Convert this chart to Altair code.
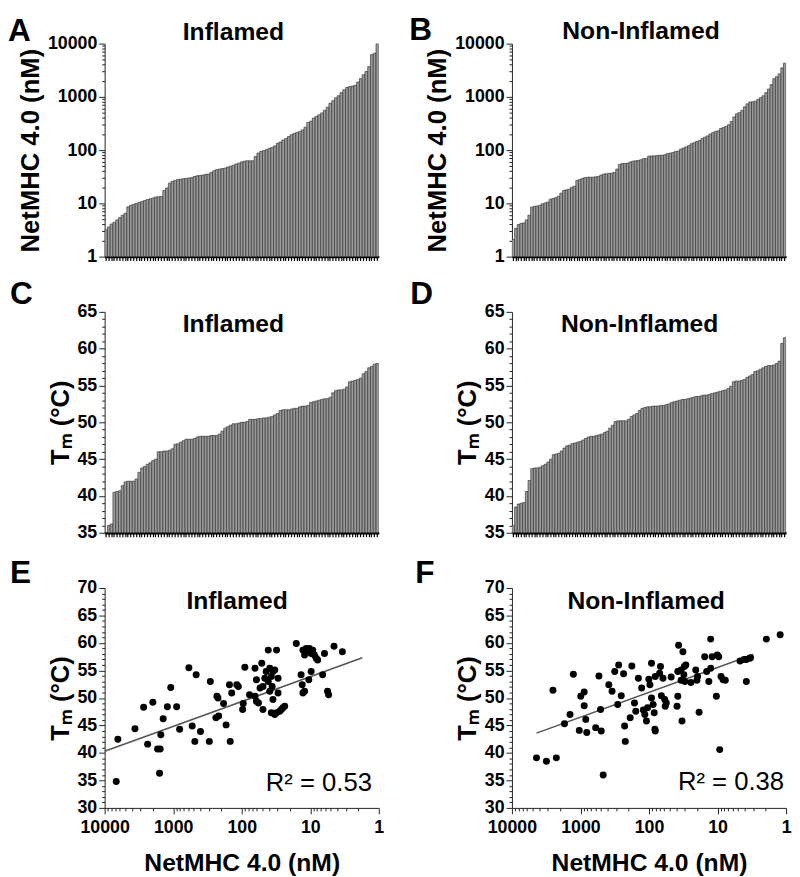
import altair as alt
import pandas as pd

FONT = "Liberation Sans"

# ---------------- data ----------------
panel_letters = ["A", "B", "C", "D", "E", "F"]
group_names = ["Inflamed", "Non-Inflamed"]
r2_labels = ["R\u00b2 = 0.53", "R\u00b2 = 0.38"]

# A: Inflamed, NetMHC 4.0 (nM), sorted
inflamed_netmhc_sorted = [
    3.2, 3.6, 4.1, 4.4, 4.9, 5.4, 6.0, 6.5, 8.6, 9.2, 9.6, 10.0, 10.4, 10.8, 11.3,
    11.8, 12.2, 12.6, 13.2, 13.3, 13.4, 17.5, 19.5, 24, 26, 27, 28, 28.5, 29, 29.5,
    30, 30.5, 32, 33, 33.5, 34, 35, 35.5, 38, 41, 43, 44, 45, 46, 48, 50, 52, 55, 57,
    60, 62, 63, 63, 63, 76, 88, 95, 98, 102, 108, 112, 120, 135, 142, 155, 165, 180,
    195, 205, 215, 225, 240, 270, 330, 350, 400, 430, 460, 500, 560, 640, 760, 850,
    960, 1050, 1200, 1360, 1500, 1560, 1600, 1650, 1900, 2200, 2600, 3000, 3700,
    6200, 6600, 10000,
]

# B: Non-Inflamed, NetMHC 4.0 (nM), sorted
noninflamed_netmhc_sorted = [
    2.1, 3.4, 4.0, 4.2, 4.3, 4.9, 6.0, 8.5, 8.8, 8.9, 9.2, 9.8, 10.2, 10.6, 12.0,
    12.3, 12.8, 13.6, 15.5, 17.5, 18, 18.5, 20, 21, 27, 28, 29.5, 30.5, 31, 31, 31,
    31.5, 32, 34, 35.5, 36, 36.5, 37, 38, 44, 54, 56, 56, 57, 60, 62, 63, 64, 66, 69,
    70, 77, 78, 78, 79, 80, 80, 82, 86, 88, 90, 94, 96, 105, 110, 115, 122, 132, 138,
    145, 151, 165, 175, 185, 200, 213, 225, 230, 255, 265, 280, 300, 345, 420, 480,
    510, 560, 650, 740, 800, 810, 830, 900, 970, 1050, 1200, 1400, 1700, 2200, 2400,
    2700, 3500, 4300,
]

# C: Inflamed, Tm (deg C), sorted
inflamed_tm_sorted = [
    34.7, 36.0, 36.2, 40.5, 40.6, 40.7, 41.4, 41.9, 42.0, 42.0, 42.0, 42.3, 43.2,
    43.8, 44.0, 44.3, 44.5, 44.8, 45.0, 46.0, 46.0, 46.1, 46.1, 46.2, 46.4, 47.0,
    47.1, 47.3, 47.5, 47.7, 47.7, 47.7, 47.8, 48.0, 48.1, 48.1, 48.1, 48.1, 48.2,
    48.2, 48.2, 48.4, 48.8, 49.2, 49.4, 49.6, 49.8, 49.8, 49.9, 50.0, 50.0, 50.1,
    50.4, 50.4, 50.4, 50.5, 50.5, 50.6, 50.6, 50.7, 50.8, 51.0, 51.2, 51.6, 51.7,
    51.7, 51.7, 51.8, 51.9, 51.9, 52.1, 52.2, 52.2, 52.3, 52.7, 52.8, 52.9, 53.0,
    53.1, 53.2, 53.2, 53.4, 54.0, 54.3, 54.4, 54.4, 54.5, 54.8, 55.5, 55.6, 55.7,
    55.8, 56.0, 56.6, 56.9, 57.4, 57.6, 57.9, 58.0,
]

# D: Non-Inflamed, Tm (deg C), sorted
noninflamed_tm_sorted = [
    36.0, 38.5, 38.9, 39.0, 39.1, 40.6, 42.1, 43.7, 43.8, 43.8, 43.9, 44.1, 44.3,
    44.6, 45.0, 45.6, 45.7, 45.8, 46.1, 46.5, 46.8, 46.9, 47.1, 47.2, 47.3, 47.4,
    47.6, 47.8, 48.0, 48.1, 48.1, 48.2, 48.3, 48.4, 48.6, 48.8, 49.2, 49.6, 50.1,
    50.2, 50.2, 50.2, 50.2, 50.4, 50.8, 51.0, 51.2, 51.6, 51.9, 52.0, 52.1, 52.1,
    52.2, 52.2, 52.2, 52.3, 52.3, 52.4, 52.5, 52.7, 52.8, 52.9, 53.0, 53.1, 53.1,
    53.2, 53.3, 53.4, 53.5, 53.5, 53.6, 53.7, 53.7, 53.8, 53.9, 54.0, 54.1, 54.2,
    54.3, 54.4, 54.6, 54.9, 55.5, 55.6, 55.6, 55.7, 55.8, 56.1, 56.3, 56.5, 56.9,
    57.0, 57.2, 57.4, 57.6, 57.7, 57.7, 57.8, 58.0, 58.3, 60.7, 61.5,
]

# E: Inflamed scatter
inflamed_scatter_netmhc = [
    6780, 6410, 3610, 2700, 2360, 1980, 1690, 1550, 1580, 1515, 1400, 1215, 1085,
    890, 805, 590, 528, 483, 462, 400, 297, 287, 238, 230, 222, 217, 184, 169, 151,
    147, 140, 118, 112, 97, 95, 90, 77, 64, 64, 61, 61, 57, 54, 51, 49, 49, 46, 44,
    41, 41, 39, 39, 37, 36, 37, 35, 35, 33, 33, 31, 31, 29.5, 29.5, 27.9, 26.4, 25,
    23.6, 16, 13.6, 13.1, 12.8, 12.1, 12.8, 12.1, 11.5, 10.9, 10.3, 9.7, 9.2, 8.7,
    10.5, 9.7, 8.2, 7.8, 6.6, 6.2, 5.6, 5.4, 4.5, 3.4,
]
inflamed_scatter_tm = [
    34.8, 42.5, 44.4, 48.3, 41.6, 49.2, 40.7, 40.7, 36.3, 43.3, 46.2, 48.4, 51.9,
    48.4, 44.3, 55.5, 44.9, 42.1, 54.2, 43.9, 42.1, 53.0, 46.4, 50.3, 50.0, 46.7,
    49.0, 45.1, 52.4, 42.1, 50.9, 52.4, 52.1, 47.9, 49.0, 55.6, 50.6, 55.4, 50.3,
    53.3, 49.4, 49.1, 51.8, 56.3, 52.1, 47.9, 53.6, 54.8, 53.0, 58.7, 55.4, 51.2,
    53.9, 52.1, 47.3, 49.7, 54.8, 47.0, 55.1, 58.7, 47.3, 53.6, 50.9, 47.6, 47.9,
    48.2, 48.5, 59.9, 54.2, 52.4, 50.9, 51.2, 58.7, 57.8, 59.0, 58.7, 59.0, 58.1,
    58.7, 57.8, 53.3, 54.8, 57.2, 56.9, 54.2, 58.1, 51.2, 50.6, 59.4, 58.4,
]

# F: Non-Inflamed scatter
noninflamed_scatter_netmhc = [
    4380, 3140, 2250, 2520, 1420, 1710, 1270, 1040, 990, 883, 883, 836, 809, 600,
    538, 509, 498, 466, 386, 346, 316, 286, 277, 235, 227, 222, 254, 188, 178, 163,
    156, 143, 128, 121, 115, 109, 105, 100.5, 97, 92, 92, 87, 84, 82, 81, 81, 70, 68,
    66, 62.5, 59, 58, 56, 47.5, 39, 38, 38, 37, 34, 34, 33, 32, 31, 30.5, 30, 29,
    24.5, 20.8, 20, 19.6, 18.6, 15.4, 14.4, 13.4, 12.6, 12.6, 12, 10.4, 10.1, 9.6,
    9.3, 8.9, 8.3, 7.7, 4.7, 4.1, 3.8, 3.8, 3.4, 3.3, 1.94, 1.22,
]
noninflamed_scatter_tm = [
    39.1, 38.5, 39.1, 51.4, 47.0, 45.3, 54.3, 44.1, 50.3, 51.1, 48.6, 46.1, 43.7,
    44.6, 54.0, 47.9, 44.0, 36.0, 52.4, 51.2, 54.8, 48.8, 56.0, 54.4, 44.9, 42.1,
    50.4, 46.4, 55.8, 49.1, 47.6, 53.6, 51.8, 47.8, 47.0, 45.8, 48.2, 53.4, 52.4,
    56.3, 50.0, 48.8, 47.3, 44.3, 44.0, 53.9, 54.5, 55.7, 50.4, 53.6, 49.7, 48.5,
    49.1, 53.8, 48.5, 50.3, 54.8, 59.6, 53.2, 55.1, 45.8, 58.4, 54.2, 55.7, 53.0,
    56.0, 52.8, 55.1, 53.2, 53.9, 47.4, 57.5, 54.8, 53.0, 60.7, 55.4, 57.5, 50.3,
    57.8, 57.5, 40.6, 53.9, 53.3, 53.2, 56.7, 57.0, 57.0, 53.0, 57.2, 57.3, 60.7,
    61.5,
]

# regression lines (end points)
inflamed_fit_netmhc = [10000, 1.74]
inflamed_fit_tm = [40.3, 57.3]
noninflamed_fit_netmhc = [4380, 3.0]
noninflamed_fit_tm = [43.6, 57.9]

log_major = [1, 10, 100, 1000, 10000]
log_ticks = [m * 10 ** e for e in range(4) for m in range(1, 10)] + [10000]

W = 278
H_ROW = [216, 224, 223]

LOG_MAJOR_TEST = " || ".join(f"datum.value == {v}" for v in log_major)
LIN_MAJOR_TEST = "datum.value % 5 == 0"


def tick_size(test, major=6, minor=3):
    return {"condition": {"test": test, "value": major}, "value": minor}


def letter_title(letter, dx, offset):
    return alt.TitleParams(
        text=letter, anchor="start", frame="group", orient="top", dx=dx,
        offset=offset, fontSize=32, fontWeight="bold", font=FONT,
        color="black", baseline="alphabetic",
    )


def bar_panel(vals, log, name, letter, dx, offset, title_rank, title_val, title_dy, h):
    df = pd.DataFrame({"rank": list(range(len(vals))), "value": vals})
    if log:
        scale = alt.Scale(type="log", domain=[1, 10000], nice=False)
        ticks = log_ticks
        test = LOG_MAJOR_TEST
        ytitle = "NetMHC 4.0 (nM)"
        base = 1
    else:
        scale = alt.Scale(domain=[35, 65], zero=False, nice=False)
        ticks = list(range(35, 66))
        test = LIN_MAJOR_TEST
        ytitle = "T\u2098 (\u00b0C)"
        base = 35
    yaxis = alt.Axis(
        values=ticks, format="d", title=ytitle, labelOverlap=False,
        labelExpr=f"({test}) ? datum.label : ''", tickSize=tick_size(test),
        grid=False,
    )
    x = alt.X(
        "rank:O",
        scale=alt.Scale(paddingInner=0, paddingOuter=0),
        axis=alt.Axis(labels=False, title=None, ticks=True, tickSize=4,
                      tickColor="black", tickWidth=1.2, domainColor="black",
                      domainWidth=2.5),
    )
    y = alt.Y("value:Q", scale=scale, axis=yaxis)
    bars = alt.Chart(df).mark_bar(
        fill="#9a9a9a", stroke="#383838", strokeWidth=0.7, clip=True
    ).encode(x=x, y=y, y2=alt.datum(base))
    tdf = pd.DataFrame({"rank": [title_rank], "value": [title_val], "label": [name]})
    txt = alt.Chart(tdf).mark_text(
        font=FONT, fontSize=25, fontWeight="bold", color="black",
        baseline="middle", dy=title_dy,
    ).encode(x=x, y=y, text="label:N")
    return alt.layer(bars, txt).properties(
        width=W, height=h, title=letter_title(letter, dx, offset)
    )


def scatter_panel(xs, ys, fx, fy, r2, r2_x, r2_y, name, title_x, letter, dx, offset, h):
    df = pd.DataFrame({"netmhc": xs, "tm": ys})
    fit = pd.DataFrame({"netmhc": fx, "tm": fy})
    r2df = pd.DataFrame({"netmhc": [r2_x], "tm": [r2_y], "label": [r2]})
    tdf = pd.DataFrame({"netmhc": [title_x], "tm": [67.7], "label": [name]})
    x = alt.X(
        "netmhc:Q",
        scale=alt.Scale(type="log", domain=[1, 10000], reverse=True, nice=False),
        axis=alt.Axis(values=log_ticks, format="d", labelOverlap=False,
                      labelFlush=False, labelPadding=5,
                      labelExpr=f"({LOG_MAJOR_TEST}) ? datum.label : ''",
                      tickSize=tick_size(LOG_MAJOR_TEST),
                      title="NetMHC 4.0 (nM)", titlePadding=14, titleFontSize=25,
                      grid=False),
    )
    y = alt.Y(
        "tm:Q",
        scale=alt.Scale(domain=[30, 70], zero=False, nice=False),
        axis=alt.Axis(values=list(range(30, 71)), format="d", labelOverlap=False,
                      labelFlush=False,
                      labelExpr=f"({LIN_MAJOR_TEST}) ? datum.label : ''",
                      tickSize=tick_size(LIN_MAJOR_TEST),
                      title="T\u2098 (\u00b0C)", grid=False),
    )
    pts = alt.Chart(df).mark_circle(size=50, color="black", opacity=1).encode(x=x, y=y)
    line = alt.Chart(fit).mark_line(color="#555555", strokeWidth=1.6).encode(x=x, y=y)
    r2t = alt.Chart(r2df).mark_text(
        font=FONT, fontSize=26, color="black", align="right", baseline="alphabetic"
    ).encode(x=x, y=y, text="label:N")
    tt = alt.Chart(tdf).mark_text(
        font=FONT, fontSize=25, fontWeight="bold", color="black", baseline="middle"
    ).encode(x=x, y=y, text="label:N")
    return alt.layer(line, pts, r2t, tt).properties(
        width=W, height=h, title=letter_title(letter, dx, offset)
    )


pA = bar_panel(inflamed_netmhc_sorted, True, group_names[0], panel_letters[0],
               -98, -53, 46, 10000, -12, H_ROW[0])
pB = bar_panel(noninflamed_netmhc_sorted, True, group_names[1], panel_letters[1],
               -104, -53, 48, 10000, -13, H_ROW[0])
pC = bar_panel(inflamed_tm_sorted, False, group_names[0], panel_letters[2],
               -96, -33, 46, 63.3, 0, H_ROW[1])
pD = bar_panel(noninflamed_tm_sorted, False, group_names[1], panel_letters[3],
               -103, -33, 47, 63.3, 0, H_ROW[1])
pE = scatter_panel(inflamed_scatter_netmhc, inflamed_scatter_tm, inflamed_fit_netmhc,
                   inflamed_fit_tm, r2_labels[0], 1.26, 33.0, group_names[0], 117,
                   panel_letters[4], -96, -36, H_ROW[2])
pF = scatter_panel(noninflamed_scatter_netmhc, noninflamed_scatter_tm, noninflamed_fit_netmhc,
                   noninflamed_fit_tm, r2_labels[1], 1.07, 33.2, group_names[1], 110,
                   panel_letters[5], -98, -36, H_ROW[2])

chart = alt.concat(
    pA, pB, pC, pD, pE, pF, columns=2,
    spacing={"row": 56, "column": 135}, bounds="flush",
).properties(padding=0).configure_view(stroke=None).configure_axis(
    labelFont=FONT, labelFontSize=18, labelFontWeight="bold", labelColor="black",
    titleFont=FONT, titleFontSize=26, titleFontWeight="bold", titleColor="black",
    domainColor="#222222", tickColor="#222222", labelPadding=2, titlePadding=4,
)

chart.save("out.html", embed_options={"renderer": "svg", "actions": False})
